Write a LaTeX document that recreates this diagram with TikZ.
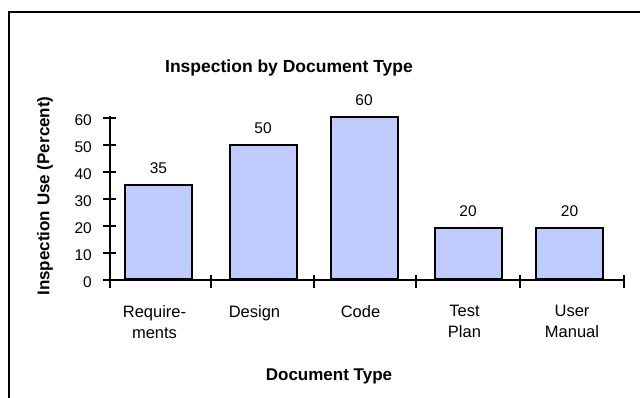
\documentclass[tikz,border=0pt]{standalone}
\usepackage{fontspec}
\setmainfont{Liberation Sans}
\usetikzlibrary{positioning}
\definecolor{barfill}{RGB}{192,204,255}
\begin{document}
\begin{tikzpicture}[x=1pt,y=-1pt,
  bar/.style={draw=black, line width=2pt, fill=barfill, minimum width=67pt, inner sep=0pt, anchor=south},
  vlabel/.style={font=\fontsize{15.5}{18}\selectfont, inner sep=0pt},
  ticklab/.style={font=\fontsize{15.5}{18}\selectfont, anchor=east, inner sep=0pt},
  catlab/.style={font=\fontsize{16.5}{21}\selectfont, align=center, anchor=north, inner sep=0pt},
  axisline/.style={line width=2pt},
  frameline/.style={line width=2.5pt}]
\useasboundingbox (0,0) rectangle (640,398);
% frame (cropped at right and bottom)
\coordinate (fbl) at (9,402);
\coordinate (ftl) at (9,12);
\coordinate (ftr) at (645,12);
\draw[frameline] (fbl) -- (ftl) -- (ftr);
% title
\node (title) at (289,68) {\fontsize{17.5}{21}\selectfont\bfseries Inspection by Document Type};
% axes
\coordinate (o) at (110,280);
\coordinate (ytop) at (110,116);
\coordinate (xend) at (624,280);
\draw[axisline] (ytop) -- (o) -- (xend);
\foreach \v/\y in {0/280,10/253,20/226,30/199,40/172,50/145,60/118}{
  \draw[axisline] (103,\y) -- (116,\y);
  \node[ticklab] (t\v) at (92,\y+2) {\v};
}
\foreach \x in {110,211,314,416,520,624}{
  \draw[axisline] (\x,275) -- (\x,288);
}
% bars
\node[bar, minimum height=94pt] (b1) at (158.5,280) {};
\node[bar, minimum height=134pt] (b2) at (263,280) {};
\node[bar, minimum height=162pt] (b3) at (364,280) {};
\node[bar, minimum height=51pt] (b4) at (468,280) {};
\node[bar, minimum height=51pt] (b5) at (569.5,280) {};
% value labels
\node[vlabel, above=10pt of b1] (v1) {35};
\node[vlabel, above=10pt of b2] (v2) {50};
\node[vlabel, above=10pt of b3] (v3) {60};
\node[vlabel, above=10pt of b4] (v4) {20};
\node[vlabel, above=10pt of b5] (v5) {20};
% category labels
\node[catlab] (c1) at (154.5,305) {Require-\\ments};
\node[catlab] (c2) at (254.5,305) {Design};
\node[catlab] (c3) at (360.5,305) {Code};
\node[catlab] (c4) at (464.5,305) {Test\\Plan};
\node[catlab] (c5) at (572,305) {User\\Manual};
% axis titles
\node (xt) at (329,376) {\fontsize{17}{20}\selectfont\bfseries Document Type};
\node[rotate=90] (yt) at (45,196) {\fontsize{17}{20}\selectfont\bfseries Inspection Use (Percent)};
\end{tikzpicture}
\end{document}
